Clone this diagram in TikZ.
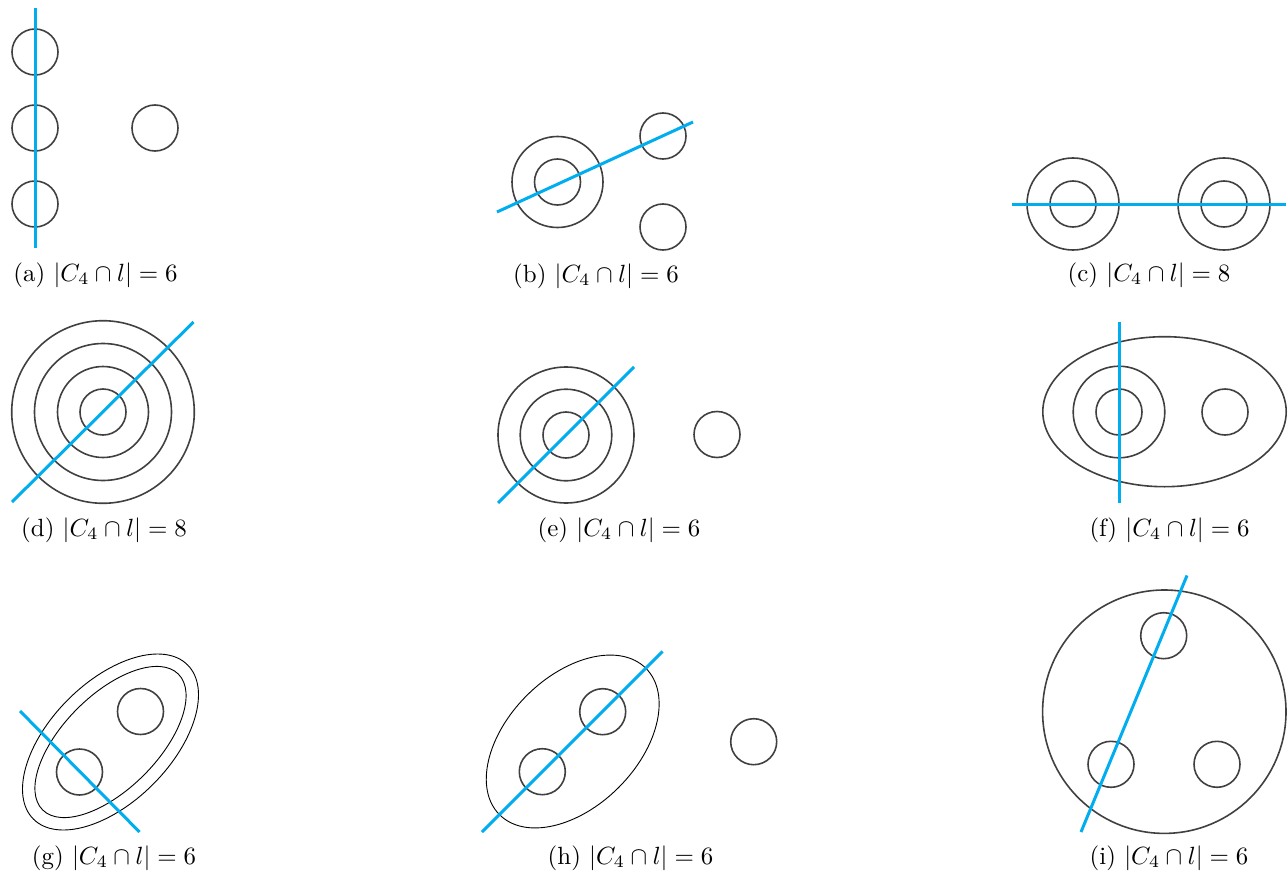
\documentclass[tikz,border=0pt]{standalone}
\begin{document}
\begin{tikzpicture}[x=1pt,y=-1pt,
  ring/.style={draw=black!75,line width=1.6pt},
  thin ring/.style={draw=black,line width=0.9pt},
  cut/.style={draw={rgb,255:red,0;green,174;blue,239},line width=3pt},
  caption/.style={font=\normalsize,inner sep=0pt,scale=2.49}]
\path[use as bounding box] (0,0) rectangle (1288,872);
% (a)
\foreach \y in {52,128,204} \draw[ring] (35,\y) circle [radius=23pt];
\draw[ring] (155,128) circle [radius=23pt];
\draw[cut] (35,8) -- (35,248);
\node[caption] (la) at (95.5,275) {(a) $|C_4\cap l|=6$};
% (b)
\draw[ring] (557.5,182) circle [radius=45.5pt];
\draw[ring] (557.5,182) circle [radius=23pt];
\draw[ring] (663,136) circle [radius=23pt];
\draw[ring] (663,227) circle [radius=23pt];
\draw[cut] (497,212) -- (693,122);
\node[caption] (lb) at (596,276) {(b) $|C_4\cap l|=6$};
% (c)
\foreach \x in {1073,1224} {
  \draw[ring] (\x,204) circle [radius=46pt];
  \draw[ring] (\x,204) circle [radius=23pt];}
\draw[cut] (1012,204.5) -- (1286,204.5);
\node[caption] (lc) at (1149,275) {(c) $|C_4\cap l|=8$};
% (d)
\foreach \r in {23,45.5,68.5,91.3} \draw[ring] (103,412) circle [radius=\r pt];
\draw[cut] (12,502) -- (193.5,322);
\node[caption] (ld) at (104,530) {(d) $|C_4\cap l|=8$};
% (e)
\foreach \r in {23,45.8,68} \draw[ring] (566,435) circle [radius=\r pt];
\draw[ring] (717,434.5) circle [radius=23pt];
\draw[cut] (498,503) -- (634,367);
\node[caption] (le) at (619,530) {(e) $|C_4\cap l|=6$};
% (f)
\draw[ring] (1164.5,411.7) ellipse [x radius=121.7pt, y radius=75pt];
\draw[ring] (1119,412) circle [radius=45.8pt];
\draw[ring] (1119,412) circle [radius=23pt];
\draw[ring] (1225,412) circle [radius=23pt];
\draw[cut] (1119,322) -- (1119,503);
\node[caption] (lf) at (1169.5,530) {(f) $|C_4\cap l|=6$};
% (g)
\begin{scope}[rotate around={45:(110.5,742)}]
  \draw[thin ring] (110.5,742) ellipse [x radius=109pt, y radius=60pt];
  \draw[thin ring] (110.5,742) ellipse [x radius=96pt, y radius=47pt];
\end{scope}
\draw[ring] (140.5,711.5) circle [radius=23pt];
\draw[ring] (79.5,772) circle [radius=23pt];
\draw[cut] (20,711) -- (139.5,832);
\node[caption] (lg) at (114,858) {(g) $|C_4\cap l|=6$};
% (h)
\begin{scope}[rotate around={45:(572.7,741.5)}]
  \draw[thin ring] (572.7,741.5) ellipse [x radius=103.5pt, y radius=65pt];
\end{scope}
\draw[ring] (602.7,711.7) circle [radius=23pt];
\draw[ring] (542.3,771.7) circle [radius=23pt];
\draw[ring] (753.7,741.7) circle [radius=23pt];
\draw[cut] (482,832) -- (662.5,651.5);
\node[caption] (lh) at (630.5,858) {(h) $|C_4\cap l|=6$};
% (i)
\draw[ring] (1164.3,711.7) circle [radius=121.7pt];
\draw[ring] (1163.7,635.7) circle [radius=23pt];
\draw[ring] (1111,764.3) circle [radius=23pt];
\draw[ring] (1217,764.3) circle [radius=23pt];
\draw[cut] (1081,832) -- (1187,575.5);
\node[caption] (li) at (1169,858) {(i) $|C_4\cap l|=6$};
\end{tikzpicture}
\end{document}
